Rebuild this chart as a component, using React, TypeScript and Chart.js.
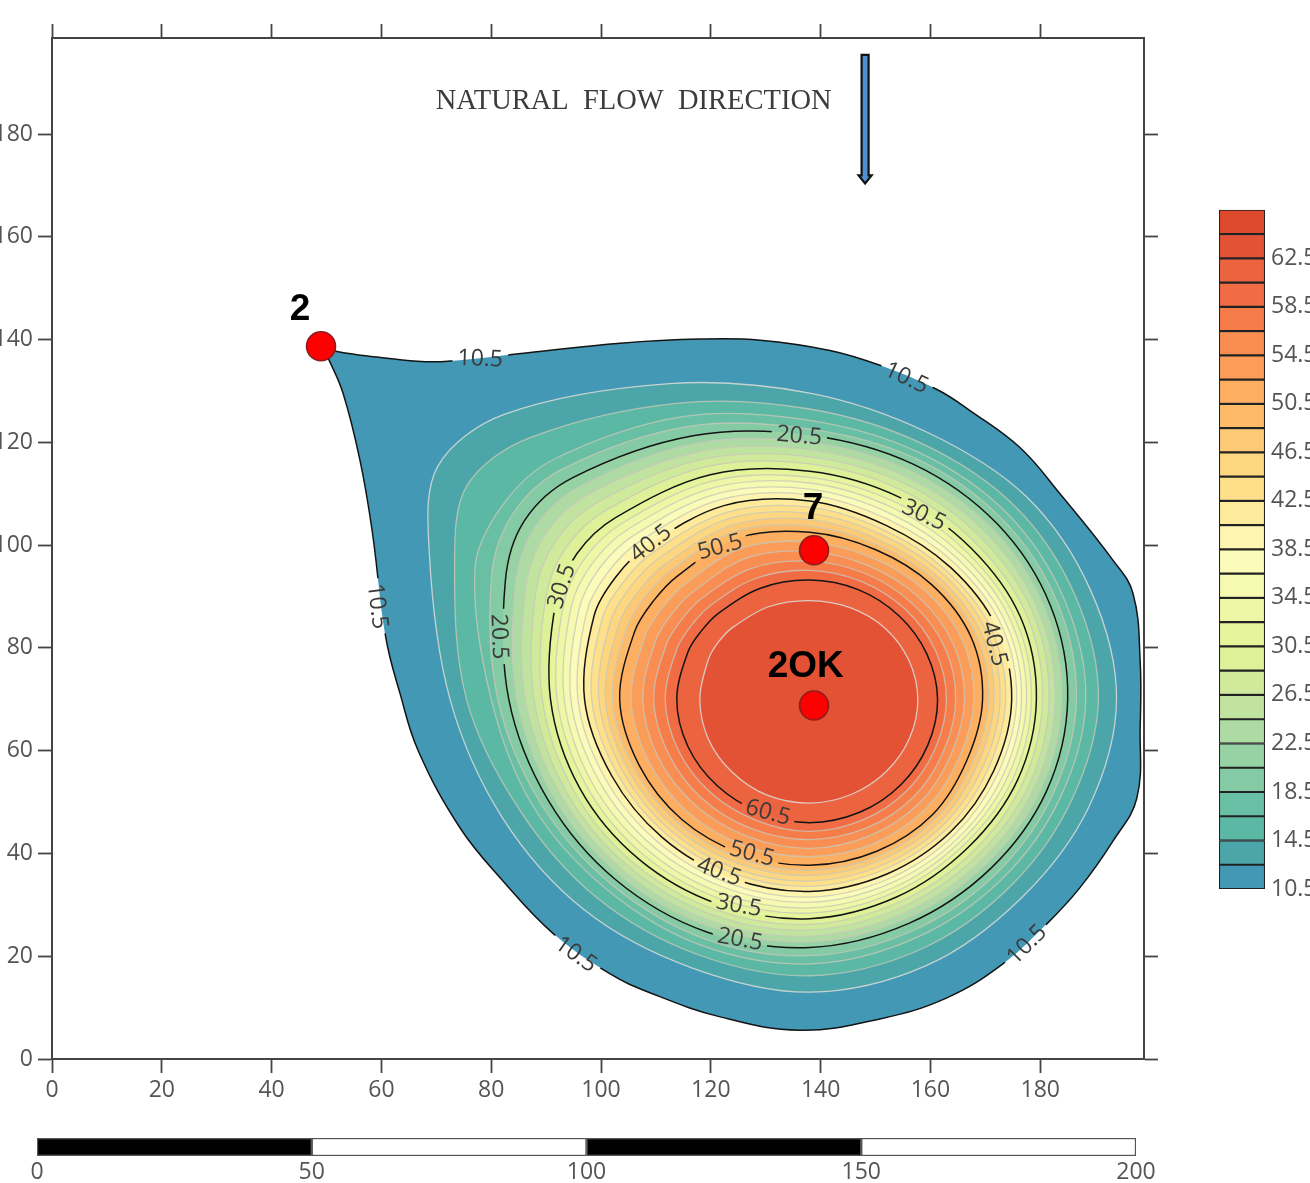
import React, { useEffect, useRef } from "react";
import { Chart, registerables } from "chart.js";

Chart.register(...registerables);

// ---------- Data ----------
const xTicks = [0, 20, 40, 60, 80, 100, 120, 140, 160, 180];
const yTicks = [0, 20, 40, 60, 80, 100, 120, 140, 160, 180];
const xMax = 198.9;
const yMax = 198.7;

// 10.5 boundary (teardrop, with its tip at well 2)
const outerX = [49.2, 51.9, 59.2, 66.5, 72.1, 87.1, 103.5, 118, 129, 141.7, 150.8, 161.2, 167.2, 176.3, 183.6, 193.3, 196.9, 198.2, 198.2, 197.6, 193.3, 187.2, 181.2, 173.2, 163, 150.8, 136.2, 121.7, 108.9, 101.6, 91.3, 82.1, 74.3, 66.7, 63.4, 60.8, 58.3, 56.1, 53, 50.3, 49.2];
const outerY = [138.7, 137.7, 136.6, 135.8, 135.8, 137.5, 139.3, 140.1, 139.9, 137.9, 135, 130.3, 126.2, 119, 110, 97, 90.6, 77.5, 64.5, 50.8, 42.5, 33.3, 26.3, 18.5, 11.9, 7.8, 5.6, 8.2, 12.9, 16.6, 24.4, 34.7, 45, 60, 71.1, 82, 102.9, 116.5, 129.6, 136.4, 138.7];

// Inner contours: distance from the plume centre read along these bearings
const contourCentre = [138, 70];
const bearings = [0, 22.5, 45, 67.5, 90, 112.5, 135, 146.25, 157.5, 180, 202.5, 225, 247.5, 270, 292.5, 315, 337.5];
const r125 = [55.9, 55.4, 55.8, 56.2, 59.6, 66.5, 78.5, 81.5, 75, 65.5, 60.5, 58, 56.5, 57, 56, 54.6, 55];
const r145 = [52.6, 52.4, 53, 53.8, 56.5, 62.4, 72, 75, 70, 62.5, 57, 54.7, 53.7, 53.8, 52.7, 51.6, 51.6];
const r165 = [50.3, 50.3, 51, 52, 54.3, 59.6, 66, 67.5, 66, 58, 54.5, 52.3, 51.8, 51.5, 50.3, 49.5, 49.5];
const r185 = [48.6, 48.9, 49.6, 50.7, 52.6, 57.5, 63.5, 65, 62.7, 56.8, 53, 51, 50.4, 49.9, 48.8, 48, 48];
const r205 = [47, 47.5, 48.3, 49.5, 51.4, 55.5, 61, 62.5, 60, 54.8, 51.5, 49.8, 49, 48.3, 47.2, 46.6, 46.7];
const r225 = [45.9, 46.3, 47, 48.1, 50, 53.9, 58.8, 60.2, 58, 53.3, 50.3, 48.6, 47.8, 47.2, 46.1, 45.4, 45.6];
const r245 = [44.7, 45.1, 45.6, 46.7, 48.6, 52.2, 56.6, 57.9, 56, 51.8, 49, 47.5, 46.7, 46.1, 45, 44.3, 44.4];
const r265 = [43.6, 44, 44.3, 45.4, 47.2, 50.6, 54.4, 55.6, 54, 50.2, 47.8, 46.3, 45.5, 44.9, 43.8, 43.1, 43.3];
const r285 = [42.4, 42.8, 42.9, 44, 45.8, 49, 52.2, 53.3, 52, 48.7, 46.5, 45.2, 44.4, 43.8, 42.7, 42, 42.1];
const r305 = [41.3, 41.6, 41.6, 42.6, 44.4, 47.3, 50, 51, 50, 47.2, 45.3, 44, 43.2, 42.7, 41.6, 40.8, 41];
const r325 = [40.4, 40.6, 40.5, 41.4, 43.2, 46, 48.4, 49.3, 48.5, 46, 44, 42.8, 42.1, 41.6, 40.6, 39.9, 40.1];
const r345 = [39.5, 39.7, 39.5, 40.2, 42.1, 44.7, 46.8, 47.6, 47, 44.7, 42.8, 41.6, 41, 40.6, 39.7, 39, 39.1];
const r365 = [38.6, 38.7, 38.4, 39, 40.9, 43.4, 45.2, 46, 45.5, 43.5, 41.5, 40.4, 39.8, 39.5, 38.7, 38.2, 38.2];
const r385 = [37.7, 37.8, 37.4, 37.8, 39.8, 42.1, 43.6, 44.3, 44, 42.2, 40.3, 39.2, 38.7, 38.5, 37.8, 37.3, 37.2];
const r405 = [36.8, 36.8, 36.3, 36.6, 38.6, 40.8, 42, 42.6, 42.5, 41, 39, 38, 37.6, 37.4, 36.8, 36.4, 36.3];
const r425 = [35.7, 35.8, 35.3, 35.6, 37.4, 39.4, 40.4, 40.9, 40.9, 39.7, 37.9, 37, 36.6, 36.4, 35.8, 35.5, 35.2];
const r445 = [34.7, 34.8, 34.4, 34.6, 36.2, 38.1, 38.8, 39.3, 39.3, 38.4, 36.8, 36, 35.6, 35.4, 34.9, 34.5, 34.2];
const r465 = [33.6, 33.8, 33.4, 33.5, 35, 36.7, 37.2, 37.6, 37.7, 37.2, 35.8, 35, 34.5, 34.3, 33.9, 33.6, 33.1];
const r485 = [32.6, 32.8, 32.5, 32.5, 33.7, 35.4, 35.6, 36, 36.1, 35.9, 34.7, 34, 33.5, 33.3, 33, 32.6, 32.1];
const r505 = [31.5, 31.8, 31.5, 31.5, 32.5, 34, 34, 34.3, 34.5, 34.6, 33.6, 33, 32.5, 32.3, 32, 31.7, 31];
const r525 = [29.9, 30.1, 29.8, 29.8, 30.6, 31.9, 31.9, 32.2, 32.4, 32.5, 31.7, 31.2, 30.8, 30.6, 30.4, 30, 29.5];
const r545 = [28.2, 28.3, 28.1, 28.1, 28.8, 29.8, 29.8, 30.1, 30.3, 30.4, 29.8, 29.3, 29, 29, 28.7, 28.4, 27.9];
const r565 = [26.6, 26.6, 26.4, 26.5, 26.9, 27.6, 27.8, 28, 28.2, 28.4, 27.8, 27.5, 27.3, 27.3, 27.1, 26.8, 26.4];
const r585 = [24.9, 24.8, 24.7, 24.8, 25.1, 25.5, 25.7, 25.9, 26.1, 26.3, 25.9, 25.6, 25.5, 25.7, 25.4, 25.1, 24.8];
const r605 = [23.3, 23.1, 23, 23.1, 23.2, 23.4, 23.6, 23.8, 24, 24.2, 24, 23.8, 23.8, 24, 23.8, 23.5, 23.3];
const r625 = [19.7, 19.6, 19.5, 19.3, 19.2, 19.5, 19.8, 20, 20, 20, 20, 20, 20.2, 20.2, 20, 19.8, 19.7];

const innerLevels: [number, number[]][] = [
  [12.5, r125], [14.5, r145], [16.5, r165], [18.5, r185], [20.5, r205], [22.5, r225], [24.5, r245],
  [26.5, r265], [28.5, r285], [30.5, r305], [32.5, r325], [34.5, r345], [36.5, r365], [38.5, r385],
  [40.5, r405], [42.5, r425], [44.5, r445], [46.5, r465], [48.5, r485], [50.5, r505], [52.5, r525],
  [54.5, r545], [56.5, r565], [58.5, r585], [60.5, r605], [62.5, r625],
];

const bandLevels = [10.5, 12.5, 14.5, 16.5, 18.5, 20.5, 22.5, 24.5, 26.5, 28.5, 30.5, 32.5, 34.5, 36.5, 38.5, 40.5, 42.5, 44.5, 46.5, 48.5, 50.5, 52.5, 54.5, 56.5, 58.5, 60.5, 62.5, 64.5];
const bandColors = ["#4298B5", "#4CA6A9", "#5BB8A5", "#68BFA4", "#84CAA4", "#96D2A4", "#AEDBA3", "#C0E4A0", "#D0EA9B", "#DEF199", "#E6F59C", "#EEF7A5", "#F5FAB0", "#FBFCBA", "#FEF5B0", "#FEEA9B", "#FEE08B", "#FDD680", "#FDC975", "#FDBB69", "#FDAE61", "#FB9C59", "#F98D52", "#F67C4A", "#F16C44", "#EC6340", "#E45235", "#DF4A2E"];
const majorLevels = [10.5, 20.5, 30.5, 40.5, 50.5, 60.5];

const colorbarTicks = [10.5, 14.5, 18.5, 22.5, 26.5, 30.5, 34.5, 38.5, 42.5, 46.5, 50.5, 54.5, 58.5, 62.5];
const colorbarTop = 66.5;

// Contour labels: [level, x, y, text angle]
const contourLabels: [number, number, number, number][] = [
  [10.5, 78, 136.2, 2], [10.5, 155.6, 132.5, 25], [10.5, 59.2, 88.1, 83], [10.5, 95.4, 20.3, 35], [10.5, 177.6, 22.2, -45],
  [20.5, 136.1, 121.2, 5], [20.5, 81.4, 82.2, 88], [20.5, 125.3, 23.2, 10],
  [30.5, 158.8, 105.8, 25], [30.5, 92.9, 92, -72], [30.5, 125.1, 29.8, 10],
  [40.5, 109.1, 100.3, -38], [40.5, 171.6, 80.8, 75], [40.5, 121.5, 36.4, 20],
  [50.5, 121.7, 99.6, -15], [50.5, 127.5, 39.9, 15],
  [60.5, 130.4, 47.9, 15],
];

const wellNames = ["2", "7", "2OK"];
const wellX = [49, 138.8, 138.8];
const wellY = [138.7, 99, 68.8];
const wellLabelX = [45.2, 138.6, 137.3];
const wellLabelY = [145.8, 107, 76.4];

const flowText = "NATURAL  FLOW  DIRECTION";
const flowTextAt = [69.9, 186.3];
const flowArrowX = 148.1;
const flowArrowY = [195.4, 170.2];

const scaleSegments: [number, number][] = [[0, 50], [50, 100], [100, 150], [150, 200]];
const scaleColors = ["#000000", "#FFFFFF", "#000000", "#FFFFFF"];
const scaleTicks = [0, 50, 100, 150, 200];

// ---------- Helpers ----------
type Pt = { x: number; y: number };

function ringFromRadii(radii: number[]): Pt[] {
  return radii.map((r, i) => ({
    x: contourCentre[0] + r * Math.cos((bearings[i] * Math.PI) / 180),
    y: contourCentre[1] + r * Math.sin((bearings[i] * Math.PI) / 180),
  }));
}

const LABEL_FONT = '23px "Open Sans"';

function labelGapPath(chart: any, ctx: CanvasRenderingContext2D, level: number) {
  ctx.font = LABEL_FONT;
  contourLabels.forEach(([lv, x, y, a]) => {
    if (lv !== level) return;
    const px = chart.scales.x.getPixelForValue(x);
    const py = chart.scales.y.getPixelForValue(y);
    const t = (a * Math.PI) / 180;
    const w = ctx.measureText(lv.toFixed(1)).width / 2 + 5;
    const h = 14;
    const cs = Math.cos(t), sn = Math.sin(t);
    const corners = [[-w, -h], [w, -h], [w, h], [-w, h]];
    corners.forEach(([dx, dy], i) => {
      const cx = px + dx * cs - dy * sn;
      const cy = py + dx * sn + dy * cs;
      if (i === 0) ctx.moveTo(cx, cy);
      else ctx.lineTo(cx, cy);
    });
    ctx.closePath();
  });
}

const contourPlugin = {
  id: "contourPlugin",
  beforeDatasetDraw(chart: any, args: any) {
    const ds = chart.data.datasets[args.index];
    if (!ds.bandColor) return;
    const ctx = chart.ctx as CanvasRenderingContext2D;
    const line = args.meta.dataset;
    if (ds.closedSpline) {
      line._loop = true;
      line._fullLoop = true;
      line._segments = undefined;
      line._pointsUpdated = false;
    }
    line.updateControlPoints(chart.chartArea, "x");
    ctx.save();
    ctx.beginPath();
    line.path(ctx);
    ctx.closePath();
    ctx.fillStyle = ds.bandColor;
    ctx.fill();
    ctx.restore();
    ctx.save();
    ctx.beginPath();
    ctx.rect(0, 0, chart.width, chart.height);
    labelGapPath(chart, ctx, ds.level);
    ctx.clip("evenodd");
  },
  afterDatasetDraw(chart: any, args: any) {
    const ds = chart.data.datasets[args.index];
    if (ds.bandColor) chart.ctx.restore();
  },
  afterDatasetsDraw(chart: any) {
    const ctx = chart.ctx as CanvasRenderingContext2D;
    const sx = chart.scales.x, sy = chart.scales.y;
    ctx.save();
    // contour labels
    ctx.font = LABEL_FONT;
    ctx.fillStyle = "#3a3a3a";
    ctx.textAlign = "center";
    ctx.textBaseline = "middle";
    contourLabels.forEach(([lv, x, y, a]) => {
      ctx.save();
      ctx.translate(sx.getPixelForValue(x), sy.getPixelForValue(y));
      ctx.rotate((a * Math.PI) / 180);
      ctx.fillText(lv.toFixed(1), 0, 0);
      ctx.restore();
    });
    // well names
    ctx.font = 'bold 37px "Liberation Sans"';
    ctx.fillStyle = "#000";
    wellNames.forEach((n, i) => {
      ctx.fillText(n, sx.getPixelForValue(wellLabelX[i]), sy.getPixelForValue(wellLabelY[i]));
    });
    // flow text
    ctx.font = '28.5px "Liberation Serif"';
    ctx.fillStyle = "#3c3c3c";
    ctx.textAlign = "left";
    ctx.fillText(flowText, sx.getPixelForValue(flowTextAt[0]), sy.getPixelForValue(flowTextAt[1]));
    // flow arrow
    const ax = sx.getPixelForValue(flowArrowX);
    const y0 = sy.getPixelForValue(flowArrowY[0]);
    const y1 = sy.getPixelForValue(flowArrowY[1]);
    ctx.beginPath();
    ctx.moveTo(ax - 3.5, y0);
    ctx.lineTo(ax + 3.5, y0);
    ctx.lineTo(ax + 3.5, y1 - 9);
    ctx.lineTo(ax + 6.5, y1 - 9);
    ctx.lineTo(ax, y1 - 1);
    ctx.lineTo(ax - 6.5, y1 - 9);
    ctx.lineTo(ax - 3.5, y1 - 9);
    ctx.closePath();
    ctx.fillStyle = "#4F8FD6";
    ctx.strokeStyle = "#111";
    ctx.lineWidth = 2.2;
    ctx.fill();
    ctx.stroke();
    ctx.restore();
  },
};

const AXIS = "#444444";
const TICK_FONT = { family: '"Open Sans"', size: 23 };

function axisGrid(len: number) {
  return { display: true, drawOnChartArea: false, drawTicks: true, tickLength: len, tickColor: AXIS, tickWidth: 1.8 };
}

function fixedTicks(values: number[]) {
  return (scale: any) => {
    scale.ticks = values.map((value) => ({ value }));
  };
}

export default function App() {
  const mainRef = useRef<HTMLCanvasElement>(null);
  const barRef = useRef<HTMLCanvasElement>(null);
  const scaleRef = useRef<HTMLCanvasElement>(null);

  useEffect(() => {
    const charts: Chart[] = [];

    const outerRing: Pt[] = outerX.map((x, i) => ({ x, y: outerY[i] }));
    const allRings: [number, Pt[]][] = [
      [10.5, outerRing],
      ...innerLevels.map(([lv, r]) => [lv, ringFromRadii(r)] as [number, Pt[]]),
    ];

    const lineDatasets = allRings.map(([lv, ring]) => {
      const major = majorLevels.includes(lv);
      return {
        level: lv,
        closedSpline: lv !== 10.5,
        bandColor: bandColors[bandLevels.indexOf(lv)],
        data: ring,
        showLine: true,
        tension: lv === 10.5 ? 0.4 : 0.34,
        capBezierPoints: false,
        pointRadius: 0,
        fill: false,
        borderColor: major ? "#141414" : lv === 12.5 || lv === 62.5 ? "rgba(220,220,215,0.85)" : "rgba(200,200,185,0.8)",
        borderWidth: major ? 1.5 : 1.3,
        // Chart.js paints higher `order` first, so the inner rings stack on top of the outer ones
        order: 100 - lv,
      };
    });

    const wellDataset = {
      data: wellX.map((x, i) => ({ x, y: wellY[i] })),
      showLine: false,
      pointRadius: 14.5,
      pointBackgroundColor: "#FE0000",
      pointBorderColor: "#8A1F1F",
      pointBorderWidth: 1.6,
      clip: false,
      order: 0,
    };

    charts.push(
      new Chart(mainRef.current!, {
        type: "scatter",
        data: { datasets: [wellDataset, ...lineDatasets] as any },
        plugins: [contourPlugin],
        options: {
          responsive: false,
          animation: false,
          events: [],
          layout: { padding: 0 },
          plugins: { legend: { display: false }, tooltip: { enabled: false } },
          scales: {
            x: {
              type: "linear", position: "bottom", min: 0, max: xMax,
              afterBuildTicks: fixedTicks(xTicks),
              afterFit: (s: any) => { s.height = 56; },
              grid: axisGrid(14),
              border: { display: true, color: AXIS, width: 2 },
              ticks: { color: "#555", font: TICK_FONT, padding: 4, maxRotation: 0, autoSkip: false },
            },
            x2: {
              type: "linear", position: "top", min: 0, max: xMax,
              afterBuildTicks: fixedTicks(xTicks),
              afterFit: (s: any) => { s.height = 38; },
              grid: axisGrid(14),
              border: { display: true, color: AXIS, width: 2 },
              ticks: { display: false },
            },
            y: {
              type: "linear", position: "left", min: 0, max: yMax,
              afterBuildTicks: fixedTicks(yTicks),
              afterFit: (s: any) => { s.width = 52; },
              grid: axisGrid(14),
              border: { display: true, color: AXIS, width: 2 },
              ticks: { color: "#555", font: TICK_FONT, padding: 5, autoSkip: false },
            },
            y2: {
              type: "linear", position: "right", min: 0, max: yMax,
              afterBuildTicks: fixedTicks(yTicks),
              afterFit: (s: any) => { s.width = 26; },
              grid: axisGrid(14),
              border: { display: true, color: AXIS, width: 2 },
              ticks: { display: false },
            },
          },
        } as any,
      })
    );

    charts.push(
      new Chart(barRef.current!, {
        type: "bar",
        data: {
          labels: [""],
          datasets: bandLevels.map((lv, i) => ({
            data: [[lv, i + 1 < bandLevels.length ? bandLevels[i + 1] : colorbarTop]],
            backgroundColor: bandColors[i],
            borderColor: "#222",
            borderWidth: 1.4,
            borderSkipped: false,
            grouped: false,
            barPercentage: 1,
            categoryPercentage: 1,
          })) as any,
        },
        options: {
          responsive: false,
          animation: false,
          events: [],
          layout: { padding: { left: 29, top: 16, bottom: 21 } },
          plugins: { legend: { display: false }, tooltip: { enabled: false } },
          scales: {
            x: { display: false },
            y: {
              type: "linear", position: "right", min: 10.5, max: colorbarTop,
              afterBuildTicks: fixedTicks(colorbarTicks),
              afterFit: (s: any) => { s.width = 45; },
              grid: { display: false, drawTicks: false },
              border: { display: false },
              ticks: { color: "#555", font: TICK_FONT, padding: 6, autoSkip: false, callback: (v: any) => Number(v).toFixed(1) },
            },
          },
        } as any,
      })
    );

    charts.push(
      new Chart(scaleRef.current!, {
        type: "bar",
        data: {
          labels: [""],
          datasets: scaleSegments.map((seg, i) => ({
            data: [seg],
            backgroundColor: scaleColors[i],
            borderColor: "#555",
            borderWidth: 1.5,
            borderSkipped: false,
            grouped: false,
            barPercentage: 1,
            categoryPercentage: 1,
          })) as any,
        },
        options: {
          indexAxis: "y",
          responsive: false,
          animation: false,
          events: [],
          layout: { padding: { left: 37, right: 174, top: 18 } },
          plugins: { legend: { display: false }, tooltip: { enabled: false } },
          scales: {
            y: { display: false },
            x: {
              type: "linear", position: "bottom", min: 0, max: 200,
              afterBuildTicks: fixedTicks(scaleTicks),
              afterFit: (s: any) => { s.height = 27; },
              grid: { display: false, drawTicks: false },
              border: { display: false },
              ticks: { color: "#555", font: TICK_FONT, padding: 3, maxRotation: 0, autoSkip: false },
            },
          },
        } as any,
      })
    );

    return () => charts.forEach((c) => c.destroy());
  }, []);

  return (
    <div style={{ position: "fixed", left: 0, top: 0, width: 1310, height: 1183, overflow: "hidden", background: "#fff" }}>
      <canvas ref={mainRef} width={1170} height={1115} style={{ position: "absolute", left: 0, top: 0 }} />
      <canvas ref={barRef} width={120} height={720} style={{ position: "absolute", left: 1190, top: 190 }} />
      <canvas ref={scaleRef} width={1310} height={63} style={{ position: "absolute", left: 0, top: 1120 }} />
    </div>
  );
}
